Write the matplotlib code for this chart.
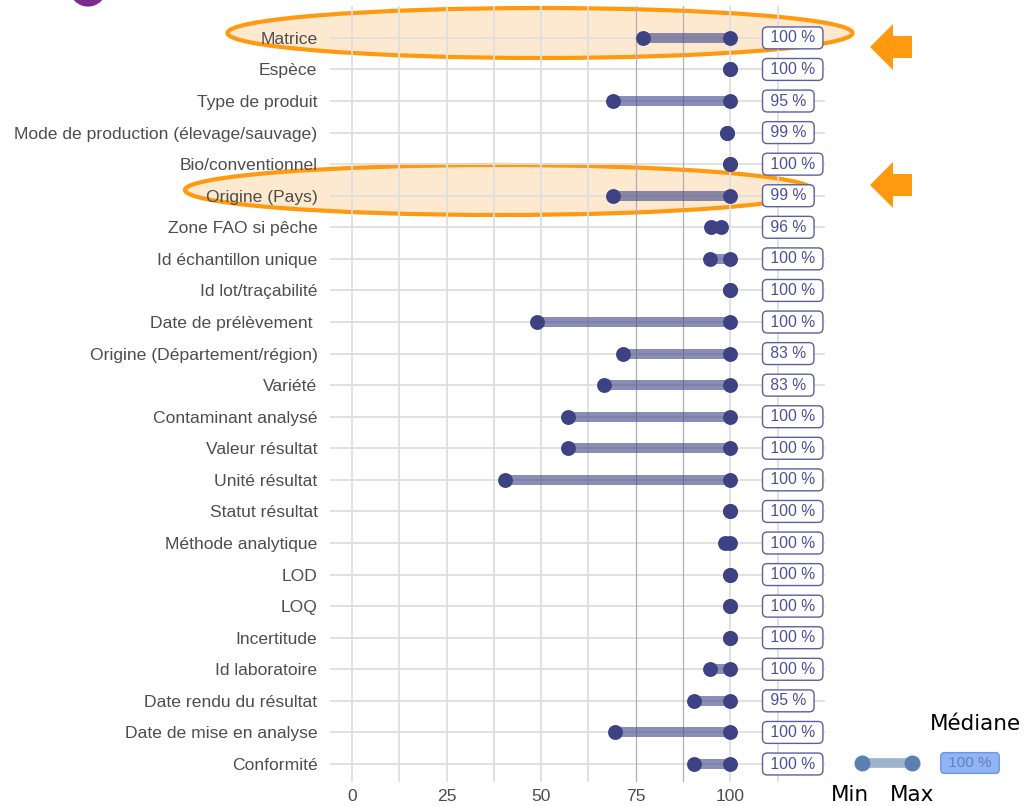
import matplotlib
matplotlib.use('Agg')
import matplotlib.pyplot as plt
from matplotlib.patches import Ellipse, Polygon

# données (lecture du graphique)
champs = ['Matrice', 'Espèce', 'Type de produit', 'Mode de production (élevage/sauvage)',
          'Bio/conventionnel', 'Origine (Pays)', 'Zone FAO si pêche', 'Id échantillon unique',
          'Id lot/traçabilité', 'Date de prélèvement ', 'Origine (Département/région)', 'Variété',
          'Contaminant analysé', 'Valeur résultat', 'Unité résultat', 'Statut résultat',
          'Méthode analytique', 'LOD', 'LOQ', 'Incertitude', 'Id laboratoire',
          'Date rendu du résultat', 'Date de mise en analyse', 'Conformité']
val_min = [77, 100, 69, 99, 100, 69, 95, 94.5, 100, 49, 71.5, 66.5, 57, 57, 40.5, 100,
           98.5, 100, 100, 100, 94.5, 90.5, 69.5, 90.5]
val_max = [100, 100, 100, 99, 100, 100, 97.5, 100, 100, 100, 100, 100, 100, 100, 100, 100,
           100, 100, 100, 100, 100, 100, 100, 100]
mediane = [100, 100, 95, 99, 100, 99, 96, 100, 100, 100, 83, 83, 100, 100, 100, 100,
           100, 100, 100, 100, 100, 95, 100, 100]
x_ticks = [0, 25, 50, 75, 100]

W, H = 1027, 806
navy = '#3d4285'
orange = '#ff9a10'


def fx(px):
    return px / W


def fy(py):
    return 1 - py / H


fig = plt.figure(figsize=(W / 100, H / 100), dpi=100)
fig.patch.set_facecolor('white')
ax = fig.add_axes([fx(330), fy(782), fx(825) - fx(330), fy(6) - fy(782)])
ax.set_facecolor('none')

n = len(champs)
ypos = [n - 1 - i for i in range(n)]

# grille
for y in ypos:
    ax.axhline(y, color='#dedede', lw=1.3, zorder=1)
for x in [0, 12.5, 25, 37.5, 50, 62.5, 75, 87.5, 100, 112.5]:
    if x in (75, 87.5):
        ax.axvline(x, color='#b0b0b0', lw=0.9, zorder=1)
    else:
        ax.axvline(x, color='#dedede', lw=1.3, zorder=1)

# segments min-max et points
for y, a, b in zip(ypos, val_min, val_max):
    ax.plot([a, b], [y, y], color=navy, alpha=0.6, lw=7.2, solid_capstyle='butt', zorder=2)
ax.scatter(val_min, ypos, s=115, color=navy, zorder=3, linewidths=0)
ax.scatter(val_max, ypos, s=115, color=navy, zorder=3, linewidths=0)

# étiquettes médiane
for y, m in zip(ypos, mediane):
    ax.text(109.4, y, f' {m} % ', ha='left', va='center', fontsize=11.3, color='#4a4f9a',
            family='Liberation Sans', zorder=4,
            bbox=dict(boxstyle='round,pad=0.22,rounding_size=0.3', fc='white',
                      ec='#5a5fa0', lw=1))

ax.set_xlim(-5.8, 125)
ax.set_ylim(-0.57, n - 1 + 1.01)
ax.set_yticks(ypos)
ax.set_yticklabels(champs)
ax.set_xticks(x_ticks)
ax.set_xticklabels([str(t) for t in x_ticks])
ax.tick_params(axis='y', length=0, labelsize=12.6, labelcolor='#4d4d4d', pad=9)
ax.tick_params(axis='x', length=0, labelsize=12.6, labelcolor='#4d4d4d', pad=5)
for lab in ax.get_xticklabels() + ax.get_yticklabels():
    lab.set_family('Liberation Sans')
for s in ax.spines.values():
    s.set_visible(False)

# ellipses de mise en évidence
for cx, cy, w, h in [(540, 33, 625, 50), (499, 190, 628, 50)]:
    fig.patches.append(Ellipse((fx(cx), fy(cy)), w / W, h / H, transform=fig.transFigure,
                               fc='#fde9cf', ec=orange, lw=3, zorder=-1))

# flèches
for cy in [47, 185]:
    pts = [(870, cy), (893, cy - 23), (893, cy - 11), (912, cy - 11),
           (912, cy + 11), (893, cy + 11), (893, cy + 23)]
    fig.patches.append(Polygon([(fx(a), fy(b)) for a, b in pts], closed=True,
                               transform=fig.transFigure, fc=orange, ec='none', zorder=5))

# cercle violet coupé en haut à gauche
fig.patches.append(Ellipse((fx(88), fy(-12)), 40 / W, 40 / H, transform=fig.transFigure,
                           fc='#7b2d8e', ec='white', lw=2, zorder=5))

# légende
fig.add_artist(plt.Line2D([fx(862), fx(912)], [fy(763), fy(763)], color='#9fb3cf', lw=7,
                          transform=fig.transFigure))
fig.add_artist(plt.Line2D([fx(862), fx(912)], [fy(763), fy(763)], color='#5b7fae', lw=0,
                          marker='o', markersize=10.5, transform=fig.transFigure))
fig.text(fx(850), fy(795), 'Min', ha='center', va='center', fontsize=15.5, color='black')
fig.text(fx(912), fy(795), 'Max', ha='center', va='center', fontsize=15.5, color='black')
fig.text(fx(975), fy(724), 'Médiane', ha='center', va='center', fontsize=15.5, color='black')
fig.text(fx(970), fy(763), ' 100 % ', ha='center', va='center', fontsize=11, color='#6a7fb0',
         family='Liberation Sans',
         bbox=dict(boxstyle='round,pad=0.22,rounding_size=0.25', fc='#8fb4f7', ec='#6f94e0', lw=1))

fig.savefig('out.png', dpi=100)
